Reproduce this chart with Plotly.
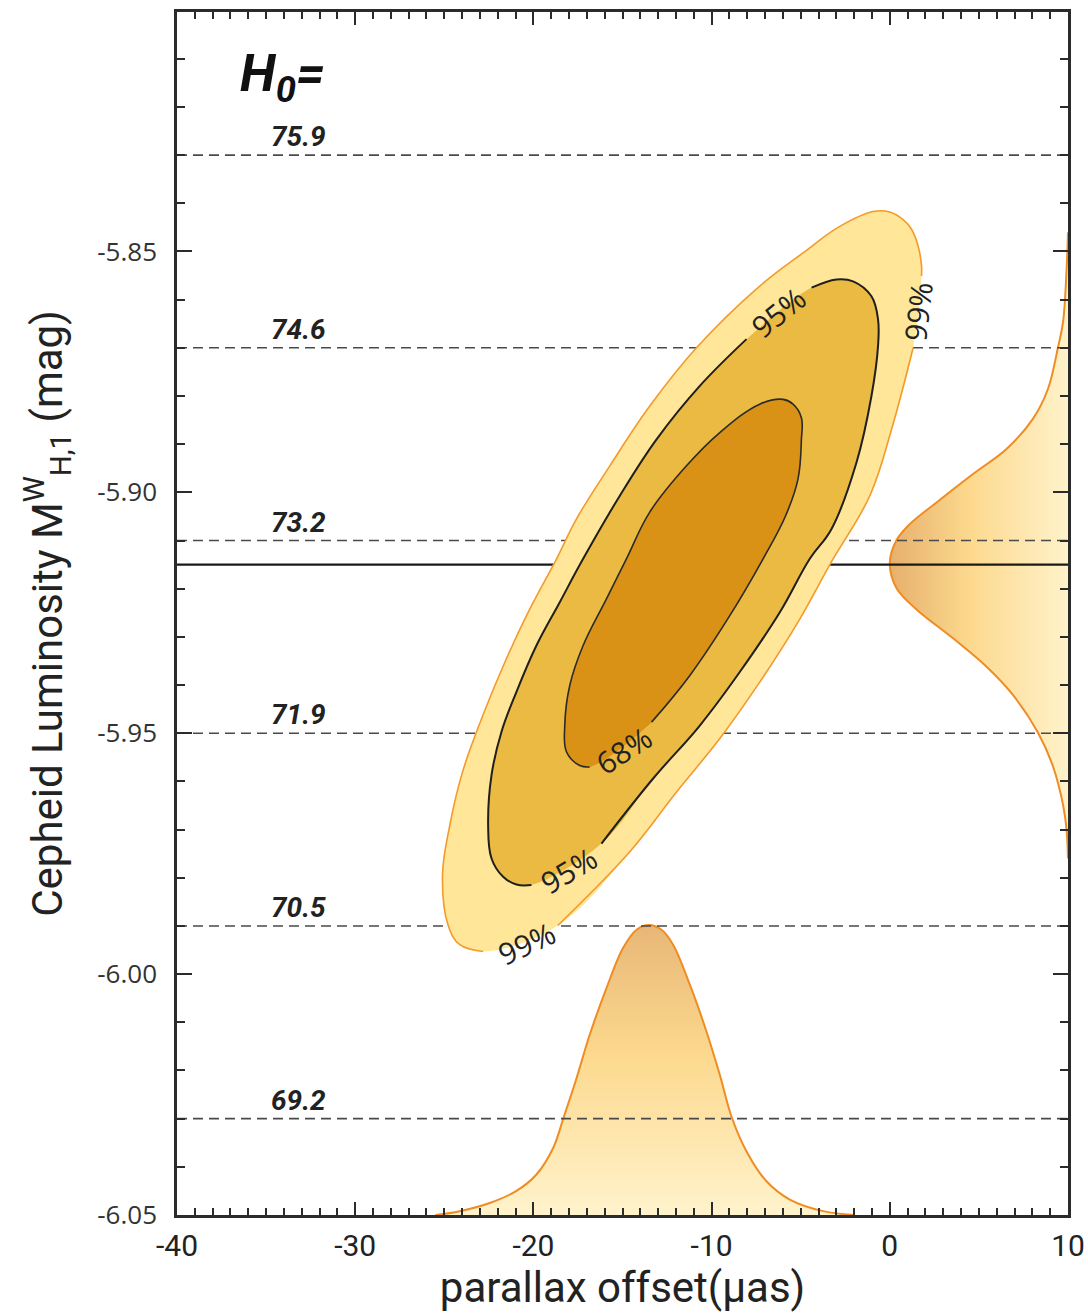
import plotly.graph_objects as go

# ---------------- values ----------------
x_tick_vals = [-40, -30, -20, -10, 0, 10]
x_tick_text = ["-40", "-30", "-20", "-10", "0", "10"]
y_tick_vals = [-6.05, -6.00, -5.95, -5.90, -5.85]
y_tick_text = ["-6.05", "-6.00", "-5.95", "-5.90", "-5.85"]

# H0 reference lines (magnitude where each H0 value applies)
h0_values = ["75.9", "74.6", "73.2", "71.9", "70.5", "69.2"]
h0_mag = [-5.83, -5.87, -5.91, -5.95, -5.99, -6.03]
h0_label_x = -33.2
best_mag = -5.915

# 99% contour (open between last and first point = label gap; second gap after index 9)
c99_x = [1.31, 0.10, -1.12, -3.27, -5.05, -7.30, -9.54, -11.97, -14.59, -18.63,
         -22.82, -24.13, -24.79, -25.10, -24.69, -24.03, -23.19, -21.51, -20.20, -18.70,
         -17.58, -15.71, -13.47, -10.85, -7.30, -4.87, -2.81, -0.94, 0.00, 0.75,
         1.22, 1.59, 1.78, 1.78]
c99_y = [-5.8700, -5.8869, -5.9007, -5.9144, -5.9263, -5.9394, -5.9511, -5.9622, -5.9746, -5.9899,
         -5.9953, -5.9939, -5.9898, -5.9794, -5.9691, -5.9587, -5.9497, -5.9345, -5.9242, -5.9138,
         -5.9055, -5.8945, -5.8821, -5.8700, -5.8572, -5.8503, -5.8448, -5.8417, -5.8418, -5.8434,
         -5.8454, -5.8489, -5.8530, -5.8551]
c99_break = 9

# 95% contour (second gap after index 14)
c95_x = [-4.39, -2.99, -2.06, -1.03, -0.66, -0.66, -1.03, -1.87, -3.27, -4.49,
         -6.17, -8.42, -10.66, -13.28, -16.18,
         -20.11, -20.95, -21.70, -22.35, -22.54, -22.35, -21.79, -20.95, -19.83, -18.52,
         -17.21, -15.15, -13.09, -10.66, -8.04]
c95_y = [-5.8575, -5.8558, -5.8562, -5.8593, -5.8641, -5.8696, -5.8800, -5.8938, -5.9076, -5.9138,
         -5.9249, -5.9373, -5.9484, -5.9594, -5.9729,
         -5.9815, -5.9814, -5.9798, -5.9760, -5.9691, -5.9587, -5.9497, -5.9414, -5.9318, -5.9228,
         -5.9138, -5.9007, -5.8890, -5.8779, -5.8682]
c95_break = 14

# 68% contour
c68_x = [-13.37, -11.22, -8.98, -7.11, -5.84, -5.15, -4.96, -4.96, -5.43, -5.99,
         -7.30, -9.54, -11.41, -13.47, -14.78, -15.90, -17.21, -17.96, -18.24, -18.14,
         -17.40, -16.84]
c68_y = [-5.9477, -5.9380, -5.9256, -5.9138, -5.9048, -5.8972, -5.8890, -5.8845, -5.8817, -5.8807,
         -5.8817, -5.8876, -5.8945, -5.9041, -5.9138, -5.9221, -5.9318, -5.9401, -5.9484, -5.9539,
         -5.9567, -5.9570]

# contour labels
label_text = ["95%", "99%", "68%", "95%", "99%"]
label_x = [-6.27, 1.57, -14.97, -18.05, -20.39]
label_y = [-5.8627, -5.8624, -5.9535, -5.9784, -5.9936]
label_angle = [-39, -83, -33, -31, -25]

# marginal distribution of the parallax offset (drawn on the bottom axis)
px_marg_x = [-25.5, -24.13, -22.45, -20.95, -19.83, -18.89, -18.29, -17.58, -16.84, -15.90,
             -14.97, -14.21, -13.52, -12.81, -12.16, -11.22, -10.29, -9.54, -8.88, -8.04,
             -6.92, -5.61, -3.74, -2.0]
px_marg_y = [-6.05, -6.0492, -6.0475, -6.0450, -6.0416, -6.0361, -6.0296, -6.0216, -6.0126, -6.0029,
             -5.9946, -5.9908, -5.9898, -5.9908, -5.9939, -6.0022, -6.0119, -6.0209, -6.0296, -6.0368,
             -6.0430, -6.0468, -6.0492, -6.05]

# marginal distribution of the Cepheid luminosity (drawn on the right axis)
mag_marg_y = [-5.846, -5.8530, -5.8644, -5.8699, -5.8785, -5.8847, -5.8910, -5.8962, -5.9021, -5.9066,
              -5.9099, -5.9147, -5.9199, -5.9243, -5.9303, -5.9362, -5.9421, -5.9499, -5.9569, -5.9650,
              -5.970, -5.976]
mag_marg_x = [10.0, 9.93, 9.73, 9.44, 8.88, 8.04, 6.55, 4.67, 2.62, 1.12,
              0.38, 0.00, 0.38, 1.50, 3.55, 5.43, 6.92, 8.32, 9.16, 9.73,
              9.92, 10.0]

# ---------------- styling ----------------
NARROW = "Roboto, Liberation Sans, sans-serif"
SANS = "Open Sans, Noto Sans, sans-serif"
ORANGE = "#EF8C22"
AXIS = "#2b2b2b"

fig = go.Figure()

# marginals with gradient fills
fig.add_trace(go.Scatter(
    x=px_marg_x, y=px_marg_y, mode="lines", fill="toself",
    line=dict(color=ORANGE, width=2, shape="spline", smoothing=1.0),
    fillgradient=dict(type="vertical", start=-6.05, stop=-5.99,
                      colorscale=[[0, "#FFF3CC"], [0.55, "#FCD98E"], [1, "#E8B777"]]),
    hoverinfo="skip", showlegend=False))
fig.add_trace(go.Scatter(
    x=mag_marg_x, y=mag_marg_y, mode="lines", fill="toself",
    line=dict(color=ORANGE, width=2, shape="spline", smoothing=1.0),
    fillgradient=dict(type="horizontal", start=0, stop=10,
                      colorscale=[[0, "#E6B06C"], [0.45, "#FCD98E"], [1, "#FFF2CA"]]),
    hoverinfo="skip", showlegend=False))

# H0 reference lines
for m in h0_mag:
    fig.add_trace(go.Scatter(
        x=[x_tick_vals[0], x_tick_vals[-1]], y=[m, m], mode="lines",
        line=dict(color="#4a4a4a", width=1.6, dash="10px,6px"),
        hoverinfo="skip", showlegend=False))
fig.add_trace(go.Scatter(
    x=[x_tick_vals[0], x_tick_vals[-1]], y=[best_mag, best_mag], mode="lines",
    line=dict(color="#1a1a1a", width=2.2), hoverinfo="skip", showlegend=False))


def split_line(xs, ys, brk):
    if brk is None:
        return list(xs), list(ys)
    return (list(xs[:brk + 1]) + [None] + list(xs[brk + 1:]),
            list(ys[:brk + 1]) + [None] + list(ys[brk + 1:]))


contours = [
    (c99_x, c99_y, c99_break, "#FFE698", "#F39A2B", 1.6),
    (c95_x, c95_y, c95_break, "#EBBA42", "#1f1f1f", 2.0),
    (c68_x, c68_y, None, "#D99215", "#2a2a2a", 1.6),
]
for cx, cy, brk, fillc, linec, lw in contours:
    fig.add_trace(go.Scatter(
        x=list(cx) + [cx[0]], y=list(cy) + [cy[0]], mode="lines", fill="toself",
        fillcolor=fillc, line=dict(width=0, color=fillc, shape="spline", smoothing=1.1),
        hoverinfo="skip", showlegend=False))
    lx, ly = split_line(cx, cy, brk)
    fig.add_trace(go.Scatter(
        x=lx, y=ly, mode="lines",
        line=dict(width=lw, color=linec, shape="spline", smoothing=1.1),
        connectgaps=False, hoverinfo="skip", showlegend=False))

annotations = []
for t, x, y, a in zip(label_text, label_x, label_y, label_angle):
    annotations.append(dict(x=x, y=y, xref="x", yref="y", text=t, showarrow=False,
                            textangle=a, font=dict(family=SANS, size=30, color="#222")))
for v, m in zip(h0_values, h0_mag):
    annotations.append(dict(x=h0_label_x, y=m, xref="x", yref="y", text="<b><i>" + v + "</i></b>",
                            showarrow=False, yanchor="bottom", yshift=0,
                            font=dict(family=NARROW, size=28, color="#222")))
annotations.append(dict(x=0.068, y=0.976, xref="paper", yref="paper", xanchor="left", yanchor="top",
                        text="<b><i>H<sub>0</sub>=</i></b>", showarrow=False,
                        font=dict(family=NARROW, size=52, color="#111")))

fig.update_layout(
    width=1088, height=1313,
    margin=dict(l=177, r=20, t=12, b=98),
    paper_bgcolor="white", plot_bgcolor="white",
    showlegend=False,
    annotations=annotations,
)
fig.update_xaxes(
    range=[x_tick_vals[0], x_tick_vals[-1]], tickmode="array",
    tickvals=x_tick_vals, ticktext=x_tick_text,
    ticks="inside", ticklen=13, tickwidth=2, tickcolor=AXIS,
    showline=True, linewidth=2.5, linecolor=AXIS, mirror="ticks",
    showgrid=False, zeroline=False,
    minor=dict(ticks="inside", dtick=1, tick0=-40, ticklen=7, tickwidth=1.6,
               tickcolor=AXIS, showgrid=False),
    tickfont=dict(family=NARROW, size=30, color="#222"), ticklabelstandoff=2,
    title=dict(text="parallax offset(µas)", font=dict(family=NARROW, size=42, color="#222"),
               standoff=4),
    automargin=False,
)
fig.update_yaxes(
    range=[y_tick_vals[0], -5.8003], tickmode="array",
    tickvals=y_tick_vals, ticktext=y_tick_text,
    ticks="inside", ticklen=15, tickwidth=2, tickcolor=AXIS,
    showline=True, linewidth=2.5, linecolor=AXIS, mirror="ticks",
    showgrid=False, zeroline=False,
    minor=dict(ticks="inside", dtick=0.01, tick0=-6.05, ticklen=8, tickwidth=1.6,
               tickcolor=AXIS, showgrid=False),
    tickfont=dict(family=SANS, size=26, color="#333"), ticklabelstandoff=12,
    title=dict(text="Cepheid Luminosity M<sup>W</sup><sub>H,1</sub> (mag)",
               font=dict(family=NARROW, size=42, color="#222"), standoff=22),
    automargin=False,
)

fig.write_html("out.html")
